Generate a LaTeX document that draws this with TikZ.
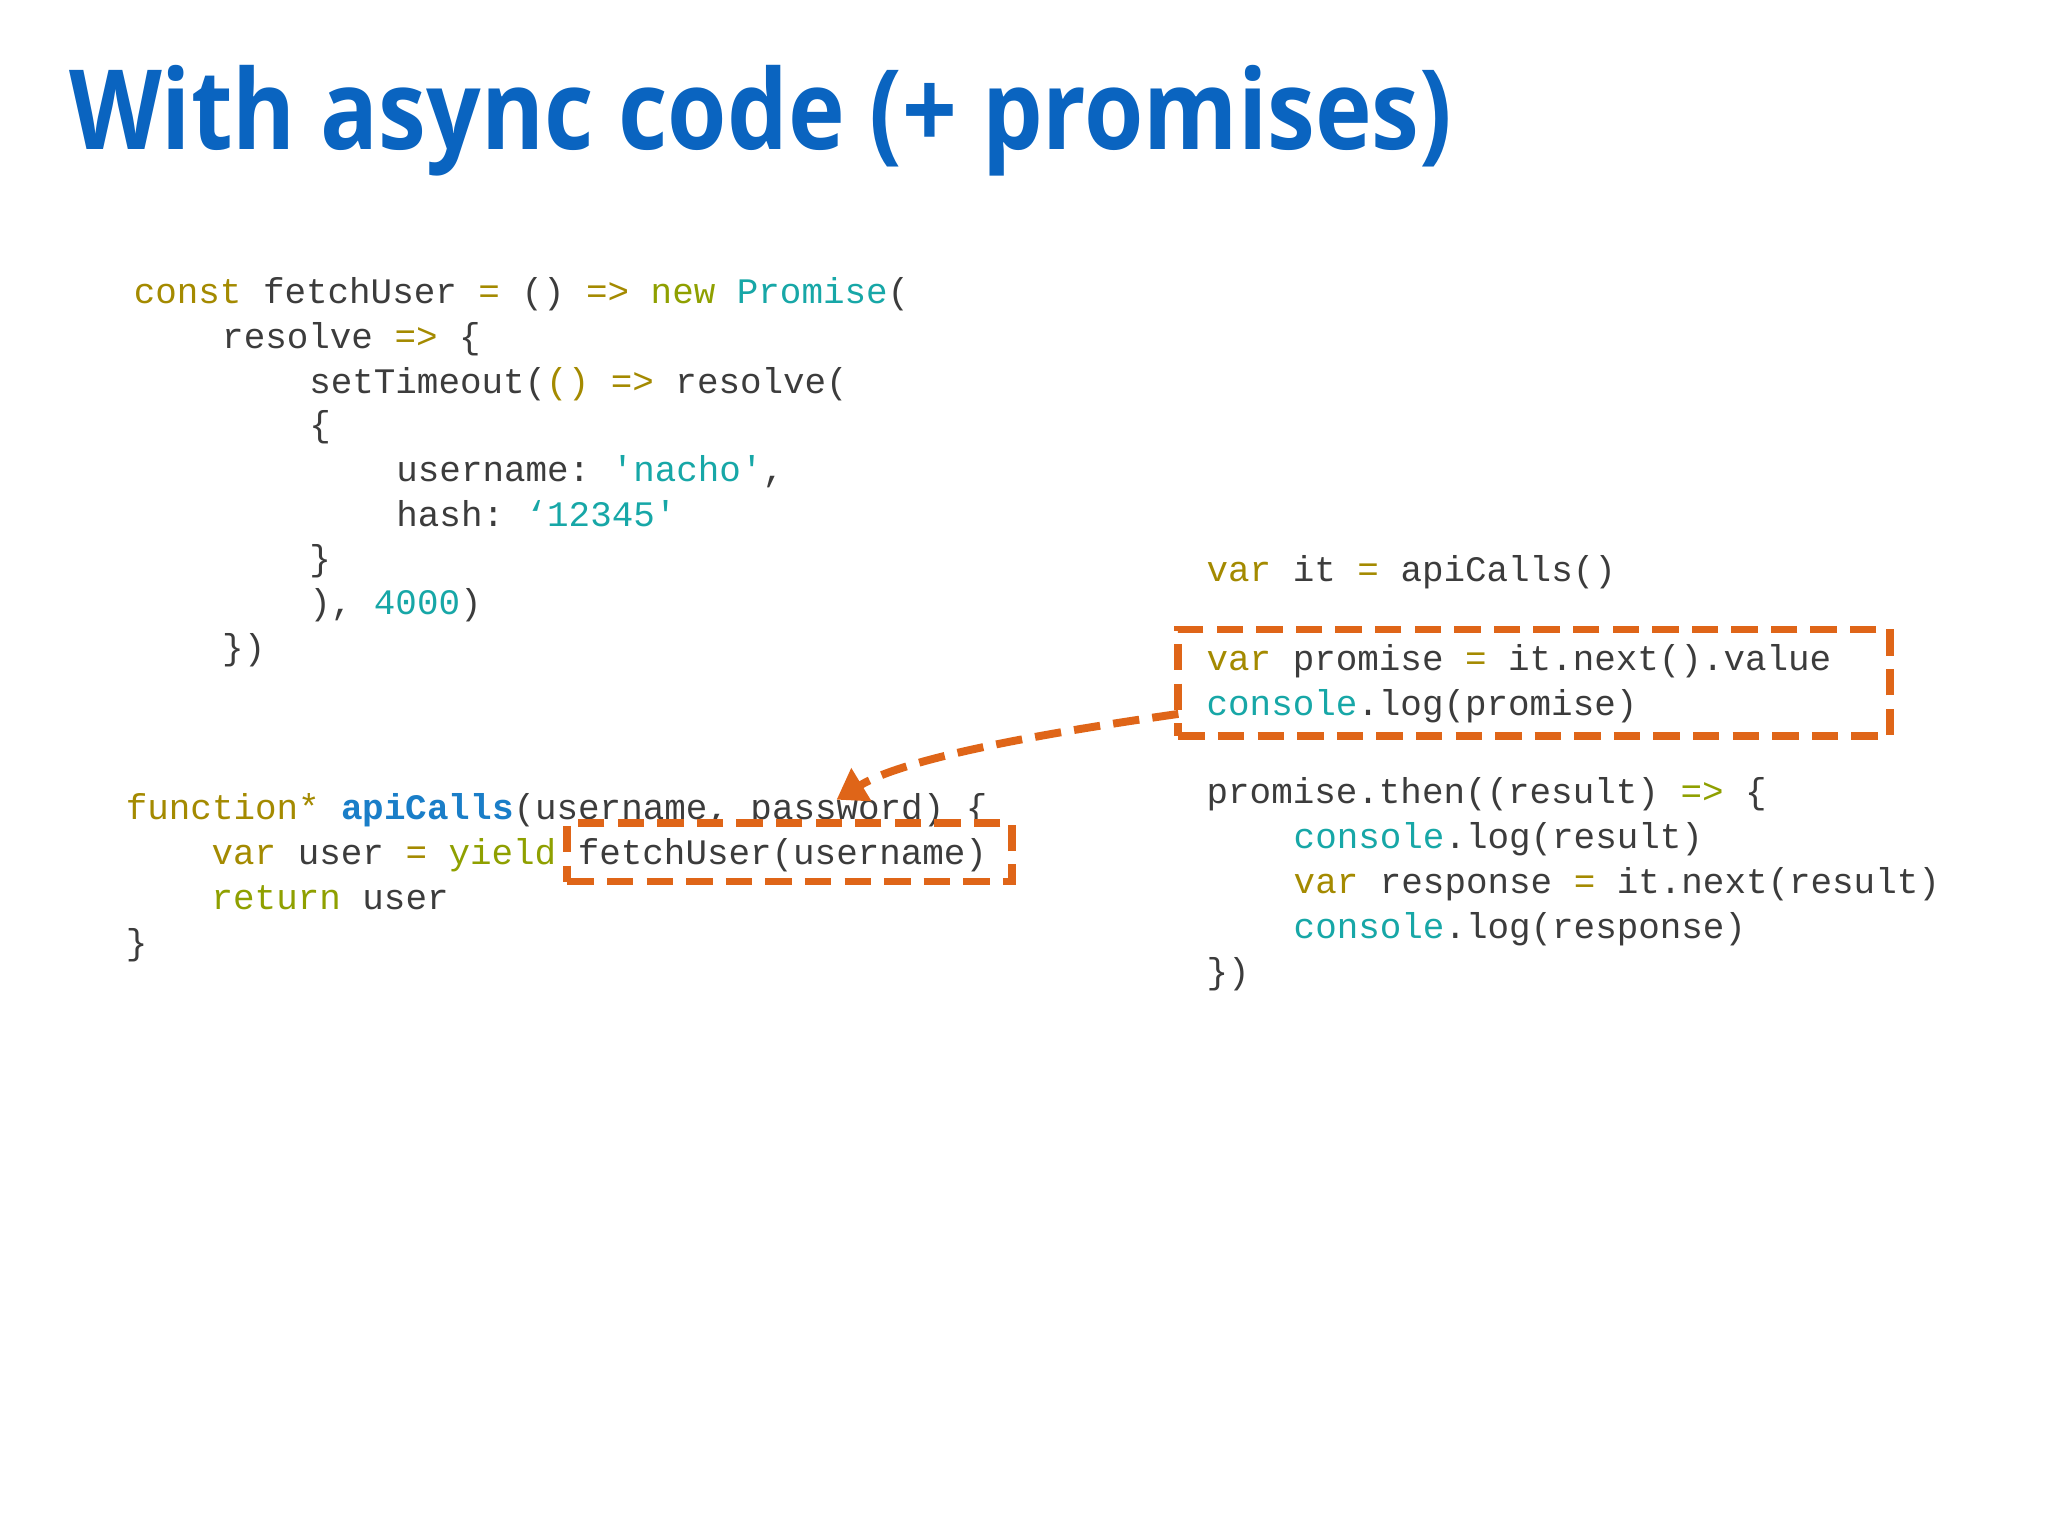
\documentclass[tikz,border=0pt]{standalone}
\usepackage{fontspec}
\usepackage{graphicx}
\setmainfont{Open Sans}
\setmonofont{Liberation Mono}
\usetikzlibrary{arrows.meta}
\definecolor{ttl}{HTML}{0A64C0}
\definecolor{kwc}{HTML}{A48A00}
\definecolor{grc}{HTML}{8FA000}
\definecolor{tlc}{HTML}{17A7A7}
\definecolor{abc}{HTML}{1A7EC8}
\definecolor{txc}{HTML}{3C3C3C}
\definecolor{org}{HTML}{DF6518}
\newcommand{\kw}[1]{\textcolor{kwc}{#1}}
\newcommand{\gr}[1]{\textcolor{grc}{#1}}
\newcommand{\tl}[1]{\textcolor{tlc}{#1}}
\newcommand{\ab}[1]{\textcolor{abc}{\bfseries #1}}
\begin{document}
\begin{tikzpicture}[x=0.5pt,y=-0.5pt,
  code/.style={anchor=base west,inner sep=0pt,text=txc,font=\ttfamily\fontsize{13.6pt}{16pt}\selectfont},
  dbox/.style={draw=org,line width=3pt,dash pattern=on 10pt off 5pt,inner sep=0pt},
  arr/.style={draw=org,line width=3pt,dash pattern=on 10pt off 5pt,-{Triangle[width=14pt,length=11pt]}}]
\useasboundingbox[fill=white] (0,0) rectangle (1552,1164);
\node[anchor=base west,inner sep=0pt,text=ttl] (title) at (52,113) {\resizebox{524pt}{\height}{\fontsize{42pt}{48pt}\selectfont\bfseries With async code (+ promises)}};
% block 1
\node[code] (a1) at (101,230) {\kw{const} fetchUser \kw{=} () \kw{=>} \gr{new} \tl{Promise}(};
\node[code] (a2) at (168,264) {resolve \kw{=>} \{};
\node[code] (a3) at (234,298) {setTimeout(\kw{()} \kw{=>} resolve(};
\node[code] (a4) at (234,331) {\{};
\node[code] (a5) at (300,365) {username: \tl{'nacho'},};
\node[code] (a6) at (300,399) {hash: \tl{‘12345'}};
\node[code] (a7) at (234,432) {\}};
\node[code] (a8) at (234,466) {), \tl{4000})};
\node[code] (a9) at (168,500) {\})};
% block 2
\node[code] (b1) at (95,621) {\kw{function*} \ab{apiCalls}(username, password) \{};
\node[code] (b2) at (160,655) {\kw{var} user \kw{=} \gr{yield} fetchUser(username)};
\node[code] (b3) at (160,689) {\gr{return} user};
\node[code] (b4) at (95,723) {\}};
% block 3
\node[code] (c1) at (914,441) {\kw{var} it \kw{=} apiCalls()};
\node[code] (c2) at (914,508) {\kw{var} promise \kw{=} it.next().value};
\node[code] (c3) at (914,542) {\tl{console}.log(promise)};
\node[code] (c4) at (914,609) {promise.then((result) \gr{=>} \{};
\node[code] (c5) at (980,643) {\tl{console}.log(result)};
\node[code] (c6) at (980,677) {\kw{var} response \kw{=} it.next(result)};
\node[code] (c7) at (980,711) {\tl{console}.log(response)};
\node[code] (c8) at (914,745) {\})};
% boxes
\node[dbox,minimum width=269.5pt,minimum height=40.5pt] (box1) at (1162.5,517.5) {};
\node[dbox,minimum width=168.5pt,minimum height=22pt] (box2) at (598.5,646) {};
\coordinate (s) at (893,541);
\coordinate (t) at (634,606);
\draw[arr] (s) .. controls (760,560) and (680,578) .. (t);
\end{tikzpicture}
\end{document}
